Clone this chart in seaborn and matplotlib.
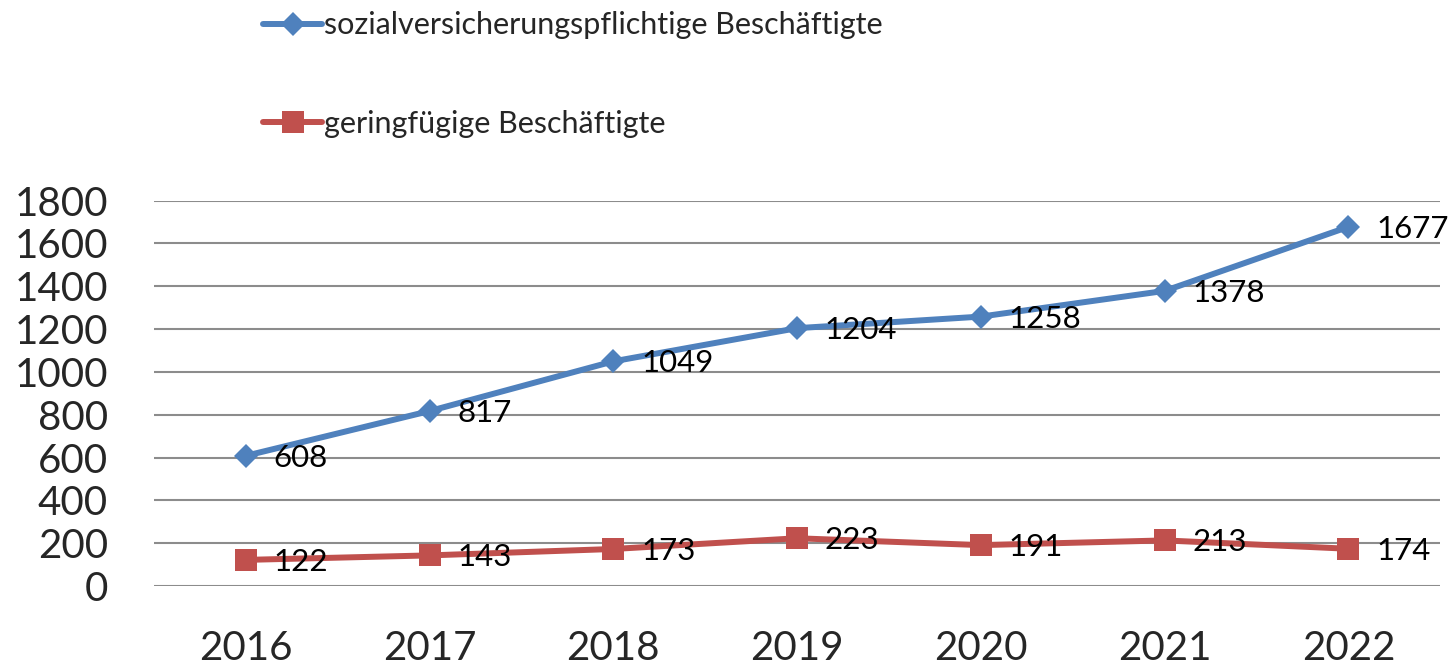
import pandas as pd
import matplotlib
matplotlib.use("Agg")
import matplotlib.pyplot as plt
import seaborn as sns

years = ["2016", "2017", "2018", "2019", "2020", "2021", "2022"]
svb = [608, 817, 1049, 1204, 1258, 1378, 1677]
gfb = [122, 143, 173, 223, 191, 213, 174]
series_names = ["sozialversicherungspflichtige Beschäftigte", "geringfügige Beschäftigte"]
colors = ["#4F81BD", "#C0504D"]

df = pd.DataFrame({
    "Jahr": years * 2,
    "Wert": svb + gfb,
    "Gruppe": [series_names[0]] * len(years) + [series_names[1]] * len(years),
})

sns.set_style("white")
plt.rcParams["font.family"] = ["Lato", "DejaVu Sans"]

fig = plt.figure(figsize=(14.52, 6.67), dpi=100)
ax = fig.add_axes([0.106, 0.1214, 0.886, 0.578])

sns.lineplot(data=df, x="Jahr", y="Wert", hue="Gruppe", style="Gruppe",
             palette=colors, markers=["D", "s"], dashes=False,
             linewidth=4.3, markeredgewidth=0, ax=ax, legend=False)
for line, ms in zip(ax.lines, [12, 16]):
    line.set_markersize(ms)

# data labels right of each point
for vals in (svb, gfb):
    for i, v in enumerate(vals):
        ax.annotate(str(v), (i, v), xytext=(20, -1.5), textcoords="offset points",
                    ha="left", va="center", fontsize=22.5, color="black")

ax.set_xlim(-0.5, 6.5)
ax.set_ylim(0, 1800)
ax.set_yticks(range(0, 1801, 200))
ax.yaxis.grid(True, color="#8c8c8c", linewidth=1.5)
ax.xaxis.grid(False)
for s in ax.spines.values():
    s.set_visible(False)
ax.tick_params(axis="y", labelsize=29, length=0, pad=33)
ax.tick_params(axis="x", labelsize=29, length=0, pad=32)
ax.set_xlabel("")
ax.set_ylabel("")

handles = [plt.Line2D([], [], color=colors[0], marker="D", markersize=12, linewidth=4.3, markeredgewidth=0),
           plt.Line2D([], [], color=colors[1], marker="s", markersize=16, linewidth=4.3, markeredgewidth=0)]
fig.legend(handles, series_names, loc="upper left", bbox_to_anchor=(0.162, 1.024),
           frameon=False, fontsize=22, labelspacing=2.3, handlelength=1.95,
           handletextpad=0.06)

fig.savefig("out.png", dpi=100)
